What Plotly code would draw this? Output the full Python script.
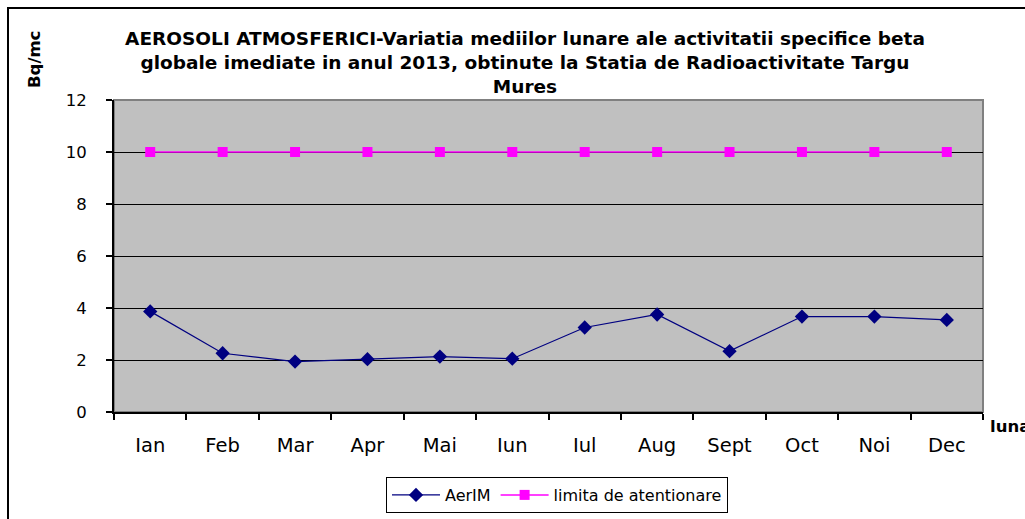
import plotly.graph_objects as go

months = ["Ian", "Feb", "Mar", "Apr", "Mai", "Iun", "Iul", "Aug", "Sept", "Oct", "Noi", "Dec"]
aerim = [3.87, 2.26, 1.94, 2.03, 2.13, 2.05, 3.25, 3.75, 2.34, 3.67, 3.67, 3.54]
limita = [10, 10, 10, 10, 10, 10, 10, 10, 10, 10, 10, 10]
y_ticks = [0, 2, 4, 6, 8, 10, 12]

FONT = "DejaVu Sans, Liberation Sans, Arial, sans-serif"

fig = go.Figure()
fig.add_trace(go.Scatter(
    x=months, y=aerim, name="AerIM", mode="lines+markers",
    line=dict(color="#000080", width=1.2),
    marker=dict(symbol="diamond", size=11, color="#000080"),
))
fig.add_trace(go.Scatter(
    x=months, y=limita, name="limita de atentionare", mode="lines+markers",
    line=dict(color="#FF00FF", width=1.5),
    marker=dict(symbol="square", size=10, color="#FF00FF"),
))

fig.update_layout(
    width=1025, height=519,
    margin=dict(l=114, r=42, t=100, b=107),
    paper_bgcolor="white",
    plot_bgcolor="#C0C0C0",
    font=dict(family=FONT, color="black", size=17),
    title=dict(
        text="<b>AEROSOLI ATMOSFERICI-Variatia mediilor lunare ale activitatii specifice beta<br>"
             "globale imediate in anul 2013, obtinute la Statia de Radioactivitate Targu<br>Mures</b>",
        x=525 / 1025, xanchor="center", xref="container",
        y=1 - 45 / 519, yanchor="middle", yref="container",
        font=dict(family=FONT, size=18.5, color="black"),
    ),
    showlegend=True,
    legend=dict(
        orientation="h", x=557 / 1025, xanchor="center", xref="container",
        y=1 - 477 / 519, yanchor="top", yref="container",
        bordercolor="black", borderwidth=1, bgcolor="white",
        font=dict(family=FONT, size=16, color="black"),
        itemwidth=48, tracegroupgap=0,
    ),
    xaxis=dict(
        type="category", categoryorder="array", categoryarray=months,
        range=[-0.5, 11.5], showgrid=False, zeroline=False,
        showline=True, linecolor="black", linewidth=2,
        ticks="outside", tickson="boundaries", ticklen=6, tickcolor="black", tickwidth=1.5,
        ticklabelstandoff=15,
        tickfont=dict(family=FONT, size=19.5, color="black"),
    ),
    yaxis=dict(
        range=[0, 12], tickvals=y_ticks, showgrid=True, gridcolor="black", gridwidth=1.4,
        zeroline=False, showline=True, linecolor="black", linewidth=2,
        ticks="outside", ticklen=6, tickcolor="black", tickwidth=1.5,
        ticklabelstandoff=16,
        tickfont=dict(family=FONT, size=16.5, color="black"),
    ),
    shapes=[
        dict(type="rect", xref="paper", yref="paper", x0=0, x1=1, y0=0, y1=1,
             line=dict(color="#808080", width=2), layer="below"),
        dict(type="rect", xref="paper", yref="paper",
             x0=(8 - 114) / 869, x1=(1040 - 114) / 869,
             y0=-(540 - 412) / 312, y1=(412 - 8) / 312,
             line=dict(color="black", width=2), layer="below"),
    ],
    annotations=[
        dict(text="<b>Bq/mc</b>", textangle=-90, xref="paper", yref="paper",
             x=(34 - 114) / 869, y=(412 - 60) / 312, xanchor="center", yanchor="middle",
             showarrow=False, font=dict(family=FONT, size=16.5, color="black")),
        dict(text="<b>luna</b>", xref="paper", yref="paper",
             x=(988 - 114) / 869, y=(412 - 426) / 312, xanchor="left", yanchor="middle",
             showarrow=False, font=dict(family=FONT, size=16.5, color="black")),
    ],
)

fig.write_html(
    "out.html",
    config={"displayModeBar": False},
    post_script="document.body.style.margin='0';document.documentElement.style.overflow='hidden';",
)
